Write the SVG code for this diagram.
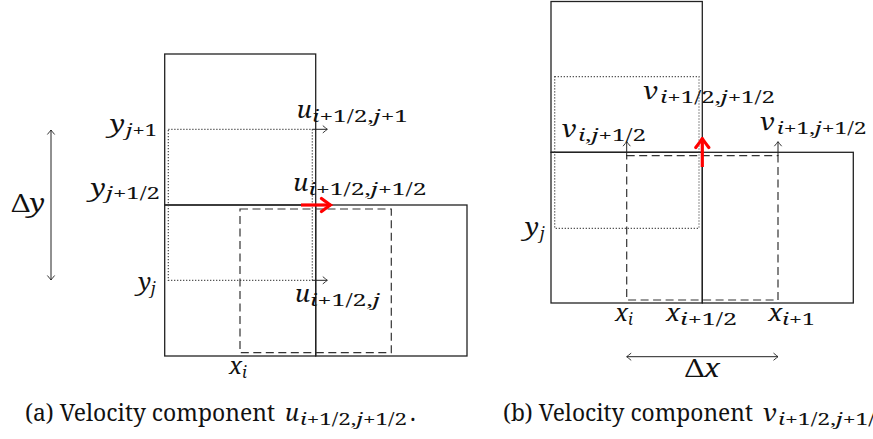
<svg xmlns="http://www.w3.org/2000/svg" width="873" height="439" viewBox="0 0 873 439">
<style>
  .cell { fill: none; stroke: #222; stroke-width: 1.3; }
  .dot { fill: none; stroke: #444; stroke-width: 1.2; stroke-dasharray: 1.2 1.8; }
  .dash { fill: none; stroke: #333; stroke-width: 1.2; stroke-dasharray: 8 4.5; }
  .arr { fill: none; stroke: #222; stroke-width: 1; }
  .red { fill: none; stroke: #ff0000; stroke-width: 3.2; }
  text { font-family: "Noto Serif", "DejaVu Serif", serif; fill: #111; }
  .lab { font-style: italic; font-size: 23px; }
  .big { font-size: 25px; }
  .sub { font-size: 16px; }
  .i { font-style: italic; }
  .cap { font-size: 23px; }
</style>
<defs>
  <marker id="ah" viewBox="-6 -5 7 10" refX="0" refY="0" markerWidth="7" markerHeight="10" markerUnits="userSpaceOnUse" orient="auto-start-reverse">
    <path d="M-4.2,-3.4 Q-1.2,-0.9 0,0 Q-1.2,0.9 -4.2,3.4" fill="none" stroke="#222" stroke-width="0.9" stroke-linecap="round"/>
  </marker>
  <marker id="rh" viewBox="-12 -9 14 18" refX="0" refY="0" markerWidth="14" markerHeight="18" markerUnits="userSpaceOnUse" orient="auto">
    <path d="M-9,-6.5 Q-2.5,-1.6 0,0 Q-2.5,1.6 -9,6.5" fill="none" stroke="#ff0000" stroke-width="3.2" stroke-linecap="round"/>
  </marker>
</defs>

<!-- Panel (a) -->
<g id="panel-a">
  <g id="a-cell-top"><rect class="cell" x="164.7" y="54" width="151" height="151"/></g>
  <g id="a-cell-bottom"><rect class="cell" x="164.7" y="205" width="151" height="151"/></g>
  <g id="a-cell-right"><rect class="cell" x="315.7" y="205" width="151.3" height="151"/></g>
  <g id="a-dotted"><rect class="dot" x="168.3" y="129.3" width="144" height="151"/></g>
  <g id="a-dashed"><rect class="dash" x="240" y="209" width="151.3" height="143.7"/></g>
  <g id="a-labels">
    <text class="lab" x="110" y="132" textLength="15" lengthAdjust="spacingAndGlyphs">y</text>
    <text class="sub" x="126" y="135.7" textLength="31" lengthAdjust="spacingAndGlyphs"><tspan class="i">j</tspan>+1</text>
    <text class="lab" x="90.7" y="196" textLength="15" lengthAdjust="spacingAndGlyphs">y</text>
    <text class="sub" x="106" y="199" textLength="54" lengthAdjust="spacingAndGlyphs"><tspan class="i">j</tspan>+1/2</text>
    <text class="big" x="11.5" y="211.7" textLength="33.5" lengthAdjust="spacingAndGlyphs">Δ<tspan class="i">y</tspan></text>
    <text class="lab" x="138.3" y="290" textLength="13" lengthAdjust="spacingAndGlyphs">y</text>
    <text class="sub i" x="151" y="294">j</text>
    <text class="lab" x="229" y="374" textLength="13" lengthAdjust="spacingAndGlyphs">x</text>
    <text class="sub i" x="242" y="378">i</text>
    <text class="lab" x="296.7" y="118" textLength="15" lengthAdjust="spacingAndGlyphs">u</text>
    <text class="sub" x="312" y="121.5" textLength="96" lengthAdjust="spacingAndGlyphs"><tspan class="i">i</tspan>+1/2,<tspan class="i">j</tspan>+1</text>
    <text class="lab" x="293.3" y="191" textLength="15" lengthAdjust="spacingAndGlyphs">u</text>
    <text class="sub" x="308.5" y="195" textLength="118" lengthAdjust="spacingAndGlyphs"><tspan class="i">i</tspan>+1/2,<tspan class="i">j</tspan>+1/2</text>
    <text class="lab" x="295" y="301.7" textLength="15" lengthAdjust="spacingAndGlyphs">u</text>
    <text class="sub" x="310" y="305.5" textLength="70" lengthAdjust="spacingAndGlyphs"><tspan class="i">i</tspan>+1/2,<tspan class="i">j</tspan></text>
  </g>
</g>

<!-- Panel (b) -->
<g id="panel-b">
  <g id="b-cell-top"><rect class="cell" x="551" y="1.5" width="151.3" height="150.8"/></g>
  <g id="b-cell-bottom"><rect class="cell" x="551" y="152.3" width="151.3" height="150.7"/></g>
  <g id="b-cell-right"><rect class="cell" x="702.3" y="152.3" width="151" height="150.7"/></g>
  <g id="b-dotted"><rect class="dot" x="554.7" y="76.7" width="144.3" height="151.6"/></g>
  <g id="b-dashed"><rect class="dash" x="626.7" y="155.7" width="151.3" height="144.3"/></g>
  <g id="b-labels">
    <text class="lab" x="643.3" y="99.3" textLength="15" lengthAdjust="spacingAndGlyphs">v</text>
    <text class="sub" x="660" y="103" textLength="115" lengthAdjust="spacingAndGlyphs"><tspan class="i">i</tspan>+1/2,<tspan class="i">j</tspan>+1/2</text>
    <text class="lab" x="561.7" y="136.7" textLength="15" lengthAdjust="spacingAndGlyphs">v</text>
    <text class="sub" x="578" y="140.5" textLength="68" lengthAdjust="spacingAndGlyphs"><tspan class="i">i</tspan>,<tspan class="i">j</tspan>+1/2</text>
    <text class="lab" x="760" y="130" textLength="15" lengthAdjust="spacingAndGlyphs">v</text>
    <text class="sub" x="776.7" y="134" textLength="90" lengthAdjust="spacingAndGlyphs"><tspan class="i">i</tspan>+1,<tspan class="i">j</tspan>+1/2</text>
    <text class="lab" x="525" y="235" textLength="14" lengthAdjust="spacingAndGlyphs">y</text>
    <text class="sub i" x="540" y="239">j</text>
    <text class="lab" x="615" y="321" textLength="13" lengthAdjust="spacingAndGlyphs">x</text>
    <text class="sub i" x="628" y="325">i</text>
    <text class="lab" x="666" y="321" textLength="14" lengthAdjust="spacingAndGlyphs">x</text>
    <text class="sub" x="680" y="325" textLength="57" lengthAdjust="spacingAndGlyphs"><tspan class="i">i</tspan>+1/2</text>
    <text class="lab" x="768.3" y="321" textLength="14" lengthAdjust="spacingAndGlyphs">x</text>
    <text class="sub" x="782" y="325" textLength="33" lengthAdjust="spacingAndGlyphs"><tspan class="i">i</tspan>+1</text>
    <text class="big" x="685" y="377" textLength="35" lengthAdjust="spacingAndGlyphs">Δ<tspan class="i">x</tspan></text>
  </g>
</g>

<!-- Connectors / arrows -->
<g id="connectors">
  <line class="arr" x1="312.3" y1="129.3" x2="327.3" y2="129.3" marker-end="url(#ah)"/>
  <line class="arr" x1="312.3" y1="280.3" x2="327.3" y2="280.3" marker-end="url(#ah)"/>
  <line class="arr" x1="51" y1="130" x2="51" y2="280" marker-start="url(#ah)" marker-end="url(#ah)"/>
  <line class="red" x1="301" y1="205" x2="330.5" y2="205" marker-end="url(#rh)"/>
  <line class="arr" x1="626.7" y1="156" x2="626.7" y2="141.7" marker-end="url(#ah)"/>
  <line class="arr" x1="778" y1="156" x2="778" y2="141.7" marker-end="url(#ah)"/>
  <line class="arr" x1="626.7" y1="356.7" x2="778" y2="356.7" marker-start="url(#ah)" marker-end="url(#ah)"/>
  <line class="red" x1="702.3" y1="167" x2="702.3" y2="138.5" marker-end="url(#rh)"/>
</g>

<!-- Captions -->
<g id="captions">
  <text class="cap" x="25" y="420.7" textLength="250" lengthAdjust="spacingAndGlyphs">(a) Velocity component</text>
  <text class="cap i" x="285" y="420.7" textLength="14" lengthAdjust="spacingAndGlyphs">u</text>
  <text class="sub" x="300" y="425" textLength="107" lengthAdjust="spacingAndGlyphs"><tspan class="i">i</tspan>+1/2,<tspan class="i">j</tspan>+1/2</text>
  <text class="cap" x="410" y="420.7">.</text>
  <text class="cap" x="503" y="420.7" textLength="250" lengthAdjust="spacingAndGlyphs">(b) Velocity component</text>
  <text class="cap i" x="763" y="420.7" textLength="14" lengthAdjust="spacingAndGlyphs">v</text>
  <text class="sub" x="778" y="425" textLength="97" lengthAdjust="spacingAndGlyphs"><tspan class="i">i</tspan>+1/2,<tspan class="i">j</tspan>+1/</text>
</g>
</svg>
